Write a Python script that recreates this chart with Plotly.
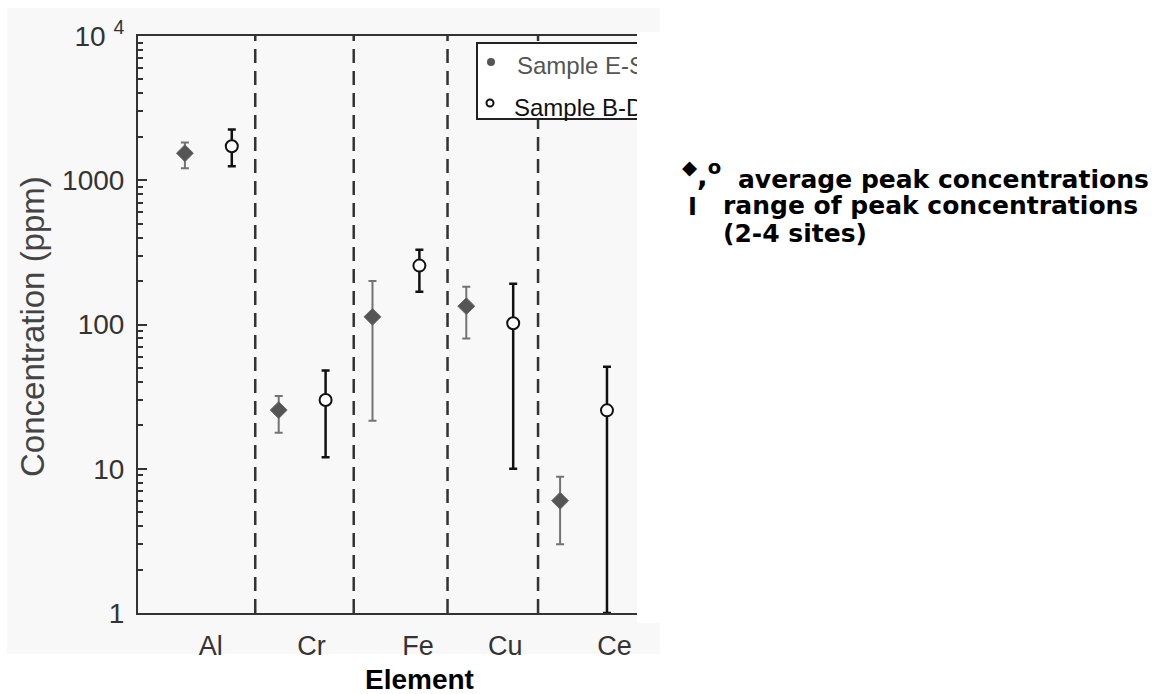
import plotly.graph_objects as go

# ---------------- data ----------------
elements = ["Al", "Cr", "Fe", "Cu", "Ce"]
series_names = ["Sample E-S", "Sample B-D"]
es_avg = [1540, 25.5, 113, 134, 6.0]
es_low = [1210, 17.8, 21.5, 80, 3.0]
es_high = [1830, 32, 200, 183, 8.8]
bd_avg = [1720, 30, 256, 102, 25.4]
bd_low = [1250, 12, 169, 10, 1.0]
bd_high = [2250, 48, 330, 192, 51]
y_tick_values = [1, 10, 100, 1000, 10000]
y_tick_labels = ["1", "10", "100", "1000", "10 <sup>4</sup>"]
note_lines = ["average peak concentrations", "range of peak concentrations", "(2-4 sites)"]

# ---------------- layout geometry ----------------
W, H = 1164, 694
L, R, T, B = 138, 637, 36, 613
XMAX = 10.64
es_x = [1, 3, 5, 7, 9]
bd_x = [2, 4, 6, 8, 10]
label_x = [1.55, 3.70, 5.97, 7.83, 10.16]
divider_x = [2.5, 4.6, 6.6, 8.53]


def pxx(px):
    return (px - L) / (R - L)


def pxy(py):
    return (B - py) / (B - T)


def dx(px):
    return (px - L) / (R - L) * XMAX


def dy(py):
    return 10 ** ((B - py) / (B - T) * 4)


FONT = "Liberation Sans, Arial, Helvetica, sans-serif"
BG = "#f8f8f8"

fig = go.Figure()

fig.add_trace(go.Scatter(
    x=es_x, y=es_avg, mode="markers", name=series_names[0],
    marker=dict(symbol="diamond", size=13, color="#555555",
                line=dict(color="#6a6a6a", width=1)),
    error_y=dict(type="data", symmetric=False,
                 array=[h - a for h, a in zip(es_high, es_avg)],
                 arrayminus=[a - l for a, l in zip(es_avg, es_low)],
                 color="#737373", thickness=2, width=4),
    cliponaxis=False,
))
fig.add_trace(go.Scatter(
    x=bd_x, y=bd_avg, mode="markers", name=series_names[1],
    marker=dict(symbol="circle", size=12, color="white",
                line=dict(color="#111111", width=2)),
    error_y=dict(type="data", symmetric=False,
                 array=[h - a for h, a in zip(bd_high, bd_avg)],
                 arrayminus=[a - l for a, l in zip(bd_avg, bd_low)],
                 color="#111111", thickness=2.5, width=4),
    cliponaxis=False,
))

# custom (cropped) legend drawn inside the plot area so it is clipped
fig.add_trace(go.Scatter(
    x=[dx(491)], y=[dy(62)], mode="markers", hoverinfo="skip",
    marker=dict(symbol="circle", size=8, color="#555555"), showlegend=False))
fig.add_trace(go.Scatter(
    x=[dx(490)], y=[dy(103)], mode="markers", hoverinfo="skip",
    marker=dict(symbol="circle", size=7, color="white",
                line=dict(color="#111111", width=2)), showlegend=False))
fig.add_trace(go.Scatter(
    x=[dx(517)], y=[dy(68)], mode="text", text=[series_names[0]],
    textposition="middle right", hoverinfo="skip", cliponaxis=True,
    textfont=dict(family=FONT, size=24, color="#555555"), showlegend=False))
fig.add_trace(go.Scatter(
    x=[dx(514)], y=[dy(110)], mode="text", text=[series_names[1]],
    textposition="middle right", hoverinfo="skip", cliponaxis=True,
    textfont=dict(family=FONT, size=24, color="#111111"), showlegend=False))

shapes = []
# scanned-page background
shapes.append(dict(type="rect", xref="paper", yref="paper", layer="below",
                   x0=pxx(7), x1=pxx(637), y0=pxy(654), y1=pxy(8),
                   fillcolor=BG, line=dict(width=0)))
shapes.append(dict(type="rect", xref="paper", yref="paper", layer="below",
                   x0=pxx(636), x1=pxx(660), y0=pxy(654), y1=pxy(623),
                   fillcolor=BG, line=dict(width=0)))
shapes.append(dict(type="rect", xref="paper", yref="paper", layer="below",
                   x0=pxx(636), x1=pxx(660), y0=pxy(32), y1=pxy(8),
                   fillcolor=BG, line=dict(width=0)))
# dashed separators
for xv in divider_x:
    shapes.append(dict(type="line", xref="x", yref="paper", layer="below",
                       x0=xv, x1=xv, y0=0, y1=1,
                       line=dict(color="#333333", width=2.5, dash="14px,8px")))
# legend box (open on the cropped right side)
lx0, ly0, ly1 = dx(477), pxy(119), pxy(43)
shapes.append(dict(type="path", xref="x", yref="paper", layer="below",
                   path=f"M {XMAX},{ly0} L {lx0},{ly0} L {lx0},{ly1} L {XMAX},{ly1}",
                   fillcolor="white", line=dict(color="#222222", width=2)))

KEYFONT = dict(family="DejaVu Sans", size=25, color="#000000")
annotations = [
    dict(text="Concentration (ppm)", xref="paper", yref="paper",
         x=pxx(32), y=pxy(327), textangle=-90, showarrow=False,
         xanchor="center", yanchor="middle",
         font=dict(family=FONT, size=33, color="#444444")),
    dict(text="<b>Element</b>", xref="paper", yref="paper",
         x=pxx(419), y=pxy(679), showarrow=False,
         xanchor="center", yanchor="middle",
         font=dict(family=FONT, size=28, color="#000000")),
    # right-hand key
    dict(text="<b><sup>◆</sup>,<sup>o</sup></b>", xref="paper", yref="paper",
         x=pxx(680), y=pxy(175), showarrow=False, xanchor="left", yanchor="middle",
         font=dict(family="DejaVu Sans", size=28, color="#000000")),
    dict(text="<b>" + note_lines[0] + "</b>", xref="paper", yref="paper",
         x=pxx(736), y=pxy(179), showarrow=False, xanchor="left", yanchor="middle",
         font=KEYFONT),
    dict(text="<b>I</b>", xref="paper", yref="paper", x=pxx(692), y=pxy(207),
         showarrow=False, xanchor="center", yanchor="middle",
         font=dict(family="DejaVu Sans", size=24, color="#000000")),
    dict(text="<b>" + note_lines[1] + "</b>", xref="paper", yref="paper",
         x=pxx(721), y=pxy(206), showarrow=False, xanchor="left", yanchor="middle",
         font=KEYFONT),
    dict(text="<b>" + note_lines[2] + "</b>", xref="paper", yref="paper",
         x=pxx(721), y=pxy(233), showarrow=False, xanchor="left", yanchor="middle",
         font=KEYFONT),
]

minor_vals = [k * 10 ** d for d in range(4) for k in range(2, 10)]

fig.update_layout(
    width=W, height=H,
    margin=dict(l=L, r=W - R, t=T, b=H - B, pad=0),
    paper_bgcolor="white", plot_bgcolor="rgba(0,0,0,0)",
    showlegend=False,
    shapes=shapes, annotations=annotations,
    xaxis=dict(range=[0, XMAX], tickvals=label_x, ticktext=elements,
               ticks="", showgrid=False, zeroline=False,
               showline=True, linecolor="#333333", linewidth=2, mirror=True,
               tickfont=dict(family=FONT, size=27, color="#333333"),
               ticklabelstandoff=8, automargin=False, fixedrange=True),
    yaxis=dict(type="log", range=[0, 4], tickvals=y_tick_values,
               ticktext=y_tick_labels, ticks="inside", ticklen=9, tickwidth=2,
               tickcolor="#333333", showgrid=False, zeroline=False,
               showline=True, linecolor="#333333", linewidth=2, mirror=False,
               minor=dict(tickvals=minor_vals, ticks="inside", ticklen=5,
                          tickwidth=1.5, tickcolor="#333333", showgrid=False),
               tickfont=dict(family=FONT, size=28, color="#333333"),
               ticklabelstandoff=6, automargin=False, fixedrange=True),
)

fig.write_html("out.html")
